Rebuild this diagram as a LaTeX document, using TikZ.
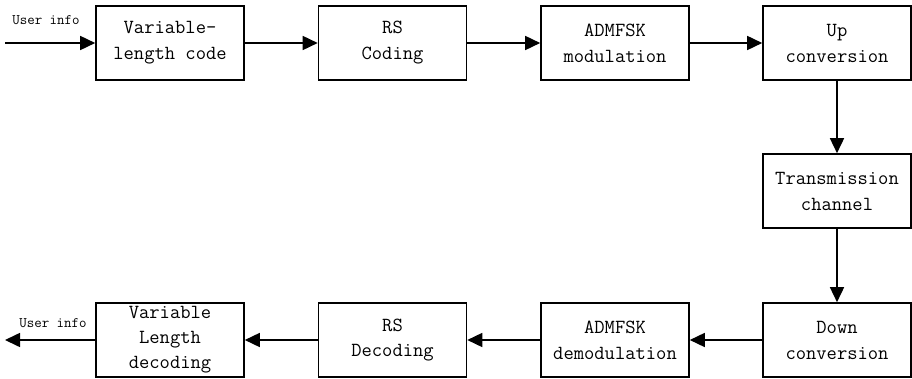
\documentclass[tikz,border=0pt]{standalone}
\usetikzlibrary{arrows.meta}
\begin{document}
\begin{tikzpicture}[x=1pt,y=1pt,
  blk/.style={draw,line width=1.6pt,minimum width=148pt,minimum height=74pt,inner sep=0pt,align=center,font=\ttfamily\fontsize{20}{26}\selectfont},
  arr/.style={line width=1.6pt,-{Triangle[length=15pt,width=14pt]}},
  lbl/.style={font=\ttfamily\fontsize{14.5}{16}\selectfont,inner sep=0pt}]
\useasboundingbox (0,0) rectangle (912,378);
\node[blk] (vlc) at (170,335) {Variable-\\length code};
\node[blk] (rs) at (392.5,335) {RS\\Coding};
\node[blk] (mod) at (615,335) {ADMFSK\\modulation};
\node[blk] (up) at (837,335) {Up\\conversion};
\node[blk] (tc) at (837,187) {Transmission\\channel};
\node[blk] (down) at (837,38) {Down\\conversion};
\node[blk] (demod) at (615,38) {ADMFSK\\demodulation};
\node[blk,font=\ttfamily\fontsize{20}{25}\selectfont] (rsd) at (392.5,38) {RS\\Decoding};
\node[blk,font=\ttfamily\fontsize{20}{25}\selectfont] (vld) at (170,38) {Variable\\Length\\decoding};
\coordinate (in) at (5,335);
\coordinate (out) at (5,38);
\node[lbl] (uin) at (46,358) {User info};
\node[lbl] (uout) at (53,55) {User info};
\draw[arr] (in) -- (vlc);
\draw[arr] (vlc) -- (rs);
\draw[arr] (rs) -- (mod);
\draw[arr] (mod) -- (up);
\draw[arr] (up) -- (tc);
\draw[arr] (tc) -- (down);
\draw[arr] (down) -- (demod);
\draw[arr] (demod) -- (rsd);
\draw[arr] (rsd) -- (vld);
\draw[arr] (vld) -- (out);
\end{tikzpicture}
\end{document}
